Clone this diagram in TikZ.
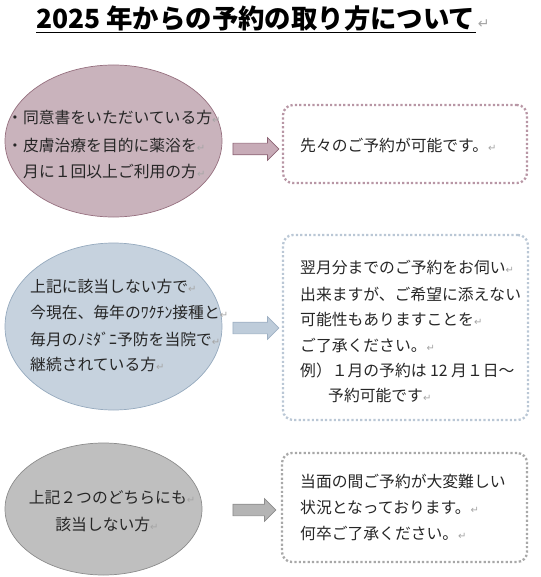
\documentclass[tikz,border=0pt]{standalone}
\usepackage{fontspec}
\setmainfont{Noto Sans CJK JP}
\newfontfamily\retfont{DejaVu Sans}
\usetikzlibrary{shapes.geometric,shapes.arrows}
\definecolor{txt}{RGB}{38,38,38}
\definecolor{retgray}{RGB}{165,165,165}
\definecolor{eAfill}{RGB}{201,179,188}
\definecolor{eAline}{RGB}{150,112,127}
\definecolor{aAfill}{RGB}{199,171,183}
\definecolor{aAline}{RGB}{140,100,116}
\definecolor{bAline}{RGB}{184,150,165}
\definecolor{eBfill}{RGB}{198,210,222}
\definecolor{eBline}{RGB}{150,170,190}
\definecolor{aBfill}{RGB}{190,204,218}
\definecolor{aBline}{RGB}{158,176,195}
\definecolor{bBline}{RGB}{186,199,213}
\definecolor{eCfill}{RGB}{191,191,191}
\definecolor{eCline}{RGB}{140,140,140}
\definecolor{aCfill}{RGB}{180,180,180}
\definecolor{aCline}{RGB}{140,140,140}
\definecolor{bCline}{RGB}{168,168,168}
\newcommand{\rmk}{{\retfont\color{retgray}\fontsize{10}{10}\selectfont ↵}}
\begin{document}
\begin{tikzpicture}[x=1pt,y=-1pt,
  oval/.style={ellipse, draw, line width=0.7pt, inner sep=0pt},
  blockarrow/.style={single arrow, draw, line width=0.7pt, inner sep=0pt,
     minimum height=46pt, minimum width=22pt, single arrow head extend=5.5pt,
     single arrow head indent=0pt, text width=0pt, text height=5.5pt, text depth=5.5pt},
  dotbox/.style={rectangle, rounded corners=10pt, line width=2.3pt,
     dash pattern=on 2.2pt off 2.2pt, inner sep=0pt},
  line/.style={anchor=west, inner sep=0pt, text=txt, font=\fontsize{15.8}{15.8}\selectfont},
  cline/.style={anchor=center, inner sep=0pt, text=txt, font=\fontsize{15.8}{15.8}\selectfont}]
\useasboundingbox (0,0) rectangle (540,577);

% title
\node[anchor=base west, inner sep=0pt, font=\bfseries\fontsize{26.4}{26.4}\selectfont, text=black]
  (title) at (36,29) {2025 年からの予約の取り方について};
\node[anchor=base west, inner sep=0pt] (titlert) at ([xshift=2pt]title.base east)
  {{\retfont\color{retgray}\fontsize{14}{14}\selectfont ↵}};
\draw[line width=1.6pt] ([yshift=-3.5pt]title.base west) -- ([yshift=-3.5pt]title.base east);

% row 1
\node[oval, fill=eAfill, draw=eAline, minimum width=217pt, minimum height=152pt] (e1) at (113.5,141) {};
\node[line] (e1a) at (7,118) {・同意書をいただいている方\rmk};
\node[line] (e1b) at (7,145) {・皮膚治療を目的に薬浴を\rmk};
\node[line] (e1c) at (23,172) {月に１回以上ご利用の方\rmk};
\node[blockarrow, fill=aAfill, draw=aAline] (a1) at (253,149) {};
\node[dotbox, draw=bAline, minimum width=244pt, minimum height=78pt] (b1) at (405,144) {};
\node[line] (b1a) at (300,145) {先々のご予約が可能です。\rmk};

% row 2
\node[oval, fill=eBfill, draw=eBline, minimum width=217pt, minimum height=167pt] (e2) at (113.5,326.5) {};
\node[line] (e2a) at (30,287) {上記に該当しない方で\rmk};
\node[line] (e2b) at (30,313) {今現在、毎年のﾜｸﾁﾝ接種と\rmk};
\node[line] (e2c) at (30,339) {毎月のﾉﾐﾀﾞﾆ予防を当院で\rmk};
\node[line] (e2d) at (30,365) {継続されている方\rmk};
\node[blockarrow, fill=aBfill, draw=aBline] (a2) at (253,328) {};
\node[dotbox, draw=bBline, minimum width=245pt, minimum height=185pt] (b2) at (405.5,327.5) {};
\node[line] (b2a) at (300,268) {翌月分までのご予約をお伺い\rmk};
\node[line] (b2b) at (300,294) {出来ますが、ご希望に添えない};
\node[line] (b2c) at (300,319) {可能性もありますことを\rmk};
\node[line] (b2d) at (300,345) {ご了承ください。\rmk};
\node[line] (b2e) at (300,370) {例）１月の予約は 12 月１日～};
\node[line] (b2f) at (328,396) {予約可能です\rmk};

% row 3
\node[oval, fill=eCfill, draw=eCline, minimum width=197pt, minimum height=132pt] (e3) at (103.5,509) {};
\node[cline] (e3a) at (112,498) {上記２つのどちらにも\rmk};
\node[cline] (e3b) at (107,524) {該当しない方\rmk};
\node[blockarrow, fill=aCfill, draw=aCline, minimum height=43pt] (a3) at (251.5,510) {};
\node[dotbox, draw=bCline, minimum width=245pt, minimum height=109pt] (b3) at (404.5,507.5) {};
\node[line] (b3a) at (300,481) {当面の間ご予約が大変難しい};
\node[line] (b3b) at (300,507) {状況となっております。\rmk};
\node[line] (b3c) at (300,533) {何卒ご了承ください。\rmk};
\end{tikzpicture}
\end{document}
